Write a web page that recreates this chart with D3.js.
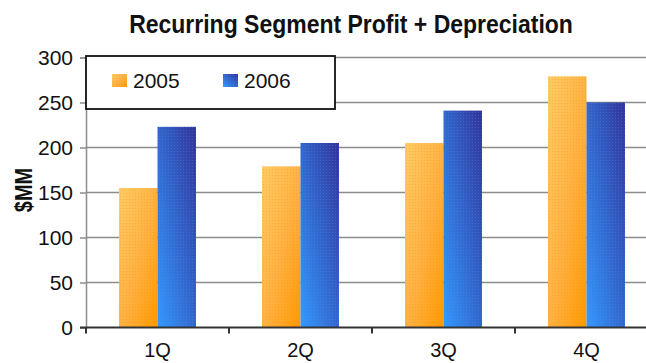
<!DOCTYPE html>
<html>
<head>
<meta charset="utf-8">
<script src="https://cdn.jsdelivr.net/npm/d3@7"></script>
<style>
  html, body { margin: 0; padding: 0; background: #fff; }
  svg { display: block; }
  text { font-family: "Liberation Sans", Arial, sans-serif; fill: #111; }
</style>
</head>
<body>
<svg id="chart" width="646" height="363"></svg>
<script>
// Quarterly recurring segment profit + depreciation, $MM
const quarters = ["1Q", "2Q", "3Q", "4Q"];
const years = ["2005", "2006"];
const values2005 = [155, 179, 205, 279];
const values2006 = [223, 205, 241, 250];
const yTicks = [0, 50, 100, 150, 200, 250, 300];
const titleText = "Recurring Segment Profit + Depreciation";
const yLabel = "$MM";

const seriesValues = { "2005": values2005, "2006": values2006 };

const svg = d3.select("#chart");

// plot frame (runs slightly past the right edge of the canvas)
const plot = { left: 86, right: 658, top: 57.5, bottom: 327.5 };

const x0 = d3.scaleBand().domain(quarters).range([plot.left, plot.right]).padding(0);
const bw = x0.bandwidth();
const x1 = d3.scaleBand().domain(years).range([bw * 0.2308, bw * 0.7692]).padding(0);
const y = d3.scaleLinear().domain([0, 300]).range([plot.bottom, plot.top]);

// gradients
const defs = svg.append("defs");
const gOrange = defs.append("linearGradient").attr("id", "grad2005")
  .attr("x1", 0).attr("y1", 0).attr("x2", 1).attr("y2", 1);
gOrange.append("stop").attr("offset", "0%").attr("stop-color", "#ffcc66");
gOrange.append("stop").attr("offset", "55%").attr("stop-color", "#ffb040");
gOrange.append("stop").attr("offset", "100%").attr("stop-color", "#ff9900");

const gBlue = defs.append("linearGradient").attr("id", "grad2006")
  .attr("x1", 0).attr("y1", 1).attr("x2", 1).attr("y2", 0);
gBlue.append("stop").attr("offset", "0%").attr("stop-color", "#3399ff");
gBlue.append("stop").attr("offset", "50%").attr("stop-color", "#3366cc");
gBlue.append("stop").attr("offset", "100%").attr("stop-color", "#333399");

// fine dither texture laid over the bar fills
const dotOrange = defs.append("pattern").attr("id", "dots2005")
  .attr("width", 3).attr("height", 3).attr("patternUnits", "userSpaceOnUse");
dotOrange.append("rect").attr("x", 1).attr("y", 1).attr("width", 1).attr("height", 1)
  .attr("fill", "#ff8a00").attr("opacity", 0.35);
const dotBlue = defs.append("pattern").attr("id", "dots2006")
  .attr("width", 3).attr("height", 3).attr("patternUnits", "userSpaceOnUse");
dotBlue.append("rect").attr("x", 1).attr("y", 1).attr("width", 1).attr("height", 1)
  .attr("fill", "#4aa0ff").attr("opacity", 0.3);

const fills = { "2005": "url(#grad2005)", "2006": "url(#grad2006)" };
const textures = { "2005": "url(#dots2005)", "2006": "url(#dots2006)" };

// horizontal gridlines
svg.append("g")
  .selectAll("line")
  .data(yTicks.filter(d => d > 0))
  .join("line")
  .attr("x1", plot.left).attr("x2", plot.right)
  .attr("y1", d => y(d)).attr("y2", d => y(d))
  .attr("stroke", "#8c8c8c").attr("stroke-width", 1.5);

// y axis
const yAxis = d3.axisLeft(y).tickValues(yTicks).tickSize(6).tickPadding(7);
const gy = svg.append("g").attr("transform", `translate(${plot.left},0)`).call(yAxis);
gy.select(".domain").attr("stroke", "#8c8c8c").attr("stroke-width", 1.5);
gy.selectAll(".tick line").attr("stroke", "#8c8c8c").attr("stroke-width", 1.5);
gy.selectAll(".tick text")
  .attr("font-size", 21).attr("fill", "#111")
  .style("font-family", "'Liberation Sans', Arial, sans-serif");

// bars
const groups = svg.append("g")
  .selectAll("g")
  .data(quarters)
  .join("g")
  .attr("transform", d => `translate(${x0(d)},0)`);

const barData = (q, i) => years.map(yr => ({ yr, v: seriesValues[yr][i] }));

groups.selectAll("rect.bar")
  .data(barData)
  .join("rect").attr("class", "bar")
  .attr("x", d => x1(d.yr))
  .attr("width", x1.bandwidth())
  .attr("y", d => y(d.v))
  .attr("height", d => y(0) - y(d.v))
  .attr("fill", d => fills[d.yr]);

groups.selectAll("rect.tex")
  .data(barData)
  .join("rect").attr("class", "tex")
  .attr("x", d => x1(d.yr))
  .attr("width", x1.bandwidth())
  .attr("y", d => y(d.v))
  .attr("height", d => y(0) - y(d.v))
  .attr("fill", d => textures[d.yr]);

// x axis with ticks between categories
const xBounds = quarters.map(q => x0(q)).concat([plot.right]);
const gx = svg.append("g");
gx.append("line")
  .attr("x1", plot.left - 6).attr("x2", plot.right)
  .attr("y1", y(0)).attr("y2", y(0))
  .attr("stroke", "#333").attr("stroke-width", 2);
gx.selectAll("line.tk")
  .data(xBounds)
  .join("line").attr("class", "tk")
  .attr("x1", d => d).attr("x2", d => d)
  .attr("y1", y(0)).attr("y2", y(0) + 6)
  .attr("stroke", "#333").attr("stroke-width", 2);
gx.selectAll("text")
  .data(quarters)
  .join("text")
  .attr("x", d => x0(d) + bw / 2)
  .attr("y", 357)
  .attr("text-anchor", "middle")
  .attr("font-size", 20)
  .text(d => d);

// title
svg.append("text")
  .attr("transform", "translate(351,33) scale(1,1.1)")
  .attr("text-anchor", "middle")
  .attr("font-size", 23).attr("font-weight", "bold")
  .text(titleText);

// y label
svg.append("text")
  .attr("transform", "translate(32,190) rotate(-90) scale(1,1.15)")
  .attr("text-anchor", "middle")
  .attr("font-size", 20).attr("font-weight", "bold")
  .text(yLabel);

// legend
const legend = svg.append("g");
legend.append("rect")
  .attr("x", 86).attr("y", 56).attr("width", 249).attr("height", 53)
  .attr("fill", "#fff").attr("stroke", "#111").attr("stroke-width", 1.8);
const legendItems = legend.selectAll("g.item")
  .data(years)
  .join("g").attr("class", "item")
  .attr("transform", (d, i) => `translate(${112 + i * 111},74)`);
legendItems.append("rect")
  .attr("width", 15).attr("height", 13)
  .attr("fill", d => fills[d]);
legendItems.append("rect")
  .attr("width", 15).attr("height", 13)
  .attr("fill", d => textures[d]);
legendItems.append("text")
  .attr("x", 21).attr("y", 13.5)
  .attr("font-size", 21)
  .text(d => d);
</script>
</body>
</html>
